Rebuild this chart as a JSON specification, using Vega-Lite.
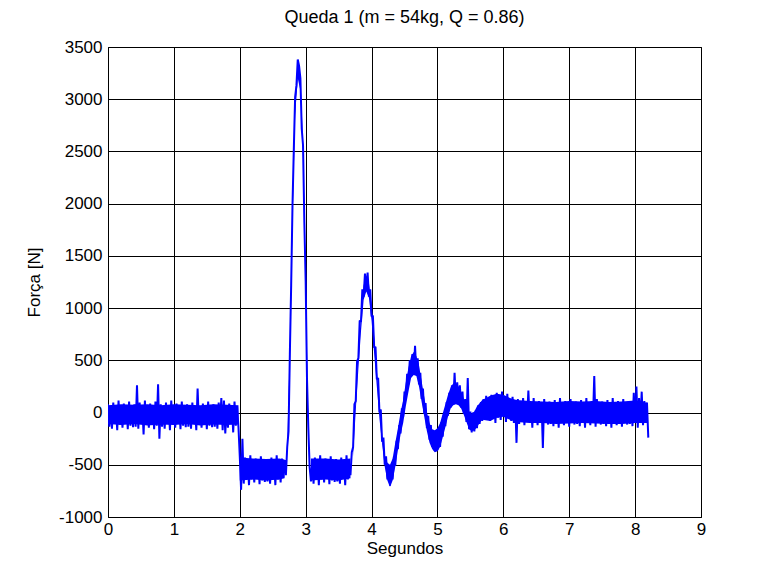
{
  "$schema": "https://vega.github.io/schema/vega-lite/v6.json",
  "width": 593,
  "height": 470,
  "autosize": {"type": "none"},
  "padding": {"left": 108, "top": 47, "right": 64, "bottom": 63},
  "background": "white",
  "title": {
    "text": "Queda 1 (m = 54kg, Q = 0.86)",
    "font": "Liberation Sans",
    "fontSize": 18,
    "fontWeight": "normal",
    "color": "black",
    "offset": 11
  },
  "datasets": {
    "faixa": [
      {"trecho": "a", "t": 0.00, "lo": -110, "hi": 70}, {"trecho": "a", "t": 0.20, "lo": -120, "hi": 80},
      {"trecho": "a", "t": 0.40, "lo": -110, "hi": 75}, {"trecho": "a", "t": 0.60, "lo": -125, "hi": 80},
      {"trecho": "a", "t": 0.80, "lo": -115, "hi": 70}, {"trecho": "a", "t": 1.00, "lo": -120, "hi": 80},
      {"trecho": "a", "t": 1.20, "lo": -110, "hi": 75}, {"trecho": "a", "t": 1.40, "lo": -125, "hi": 70},
      {"trecho": "a", "t": 1.60, "lo": -115, "hi": 80}, {"trecho": "a", "t": 1.80, "lo": -120, "hi": 75},
      {"trecho": "a", "t": 1.98, "lo": -115, "hi": 70},
      {"trecho": "b", "t": 2.00, "lo": -650, "hi": -430}, {"trecho": "b", "t": 2.20, "lo": -640, "hi": -440},
      {"trecho": "b", "t": 2.40, "lo": -650, "hi": -445}, {"trecho": "b", "t": 2.60, "lo": -640, "hi": -440},
      {"trecho": "b", "t": 2.68, "lo": -630, "hi": -450},
      {"trecho": "p1", "t": 2.72, "lo": -450, "hi": -300}, {"trecho": "p1", "t": 2.76, "lo": 400, "hi": 620},
      {"trecho": "p1", "t": 2.80, "lo": 1800, "hi": 2000}, {"trecho": "p1", "t": 2.84, "lo": 2850, "hi": 3020},
      {"trecho": "p1", "t": 2.88, "lo": 3200, "hi": 3360}, {"trecho": "p1", "t": 2.92, "lo": 3080, "hi": 3200},
      {"trecho": "p1", "t": 2.96, "lo": 2450, "hi": 2600}, {"trecho": "p1", "t": 3.00, "lo": 1150, "hi": 1300},
      {"trecho": "p1", "t": 3.04, "lo": -250, "hi": -100},
      {"trecho": "c", "t": 3.08, "lo": -650, "hi": -440}, {"trecho": "c", "t": 3.30, "lo": -640, "hi": -440},
      {"trecho": "c", "t": 3.50, "lo": -650, "hi": -450}, {"trecho": "c", "t": 3.68, "lo": -630, "hi": -440},
      {"trecho": "p2", "t": 3.72, "lo": -420, "hi": -280}, {"trecho": "p2", "t": 3.76, "lo": 20, "hi": 180},
      {"trecho": "p2", "t": 3.80, "lo": 420, "hi": 580}, {"trecho": "p2", "t": 3.84, "lo": 780, "hi": 940},
      {"trecho": "p2", "t": 3.88, "lo": 1080, "hi": 1220}, {"trecho": "p2", "t": 3.92, "lo": 1160, "hi": 1310},
      {"trecho": "p2", "t": 3.96, "lo": 1100, "hi": 1240}, {"trecho": "p2", "t": 4.00, "lo": 880, "hi": 1040},
      {"trecho": "p2", "t": 4.04, "lo": 560, "hi": 720}, {"trecho": "p2", "t": 4.08, "lo": 250, "hi": 400},
      {"trecho": "p2", "t": 4.12, "lo": -60, "hi": 100}, {"trecho": "p2", "t": 4.16, "lo": -300, "hi": -200},
      {"trecho": "d", "t": 4.16, "lo": -300, "hi": -220}, {"trecho": "d", "t": 4.20, "lo": -520, "hi": -410},
      {"trecho": "d", "t": 4.24, "lo": -650, "hi": -480}, {"trecho": "d", "t": 4.28, "lo": -710, "hi": -500},
      {"trecho": "d", "t": 4.32, "lo": -650, "hi": -440}, {"trecho": "d", "t": 4.36, "lo": -520, "hi": -290},
      {"trecho": "d", "t": 4.40, "lo": -360, "hi": -150}, {"trecho": "d", "t": 4.44, "lo": -210, "hi": 0},
      {"trecho": "d", "t": 4.48, "lo": -100, "hi": 120}, {"trecho": "d", "t": 4.52, "lo": 60, "hi": 290},
      {"trecho": "d", "t": 4.56, "lo": 200, "hi": 430}, {"trecho": "d", "t": 4.60, "lo": 330, "hi": 540},
      {"trecho": "d", "t": 4.64, "lo": 360, "hi": 580}, {"trecho": "d", "t": 4.68, "lo": 350, "hi": 540},
      {"trecho": "d", "t": 4.72, "lo": 250, "hi": 450}, {"trecho": "d", "t": 4.76, "lo": 100, "hi": 300},
      {"trecho": "d", "t": 4.80, "lo": -40, "hi": 150}, {"trecho": "d", "t": 4.84, "lo": -180, "hi": 0},
      {"trecho": "d", "t": 4.88, "lo": -290, "hi": -100}, {"trecho": "d", "t": 4.92, "lo": -350, "hi": -160},
      {"trecho": "d", "t": 4.96, "lo": -380, "hi": -170}, {"trecho": "d", "t": 5.00, "lo": -370, "hi": -150},
      {"trecho": "d", "t": 5.04, "lo": -330, "hi": -100}, {"trecho": "d", "t": 5.08, "lo": -240, "hi": -10},
      {"trecho": "d", "t": 5.12, "lo": -140, "hi": 80}, {"trecho": "d", "t": 5.16, "lo": -40, "hi": 170},
      {"trecho": "d", "t": 5.20, "lo": 40, "hi": 240}, {"trecho": "d", "t": 5.24, "lo": 70, "hi": 280},
      {"trecho": "d", "t": 5.28, "lo": 80, "hi": 280}, {"trecho": "d", "t": 5.32, "lo": 70, "hi": 250},
      {"trecho": "d", "t": 5.36, "lo": 40, "hi": 200}, {"trecho": "d", "t": 5.40, "lo": -20, "hi": 130},
      {"trecho": "d", "t": 5.44, "lo": -90, "hi": 60}, {"trecho": "d", "t": 5.48, "lo": -160, "hi": 0},
      {"trecho": "d", "t": 5.52, "lo": -180, "hi": -10}, {"trecho": "d", "t": 5.56, "lo": -170, "hi": 10},
      {"trecho": "d", "t": 5.60, "lo": -140, "hi": 60}, {"trecho": "d", "t": 5.64, "lo": -100, "hi": 90},
      {"trecho": "d", "t": 5.68, "lo": -70, "hi": 120}, {"trecho": "d", "t": 5.80, "lo": -80, "hi": 160},
      {"trecho": "d", "t": 5.90, "lo": -50, "hi": 180}, {"trecho": "d", "t": 6.00, "lo": -40, "hi": 170},
      {"trecho": "d", "t": 6.10, "lo": -70, "hi": 140}, {"trecho": "d", "t": 6.20, "lo": -90, "hi": 120},
      {"trecho": "d", "t": 6.40, "lo": -100, "hi": 110}, {"trecho": "d", "t": 6.60, "lo": -100, "hi": 105},
      {"trecho": "d", "t": 6.80, "lo": -110, "hi": 100}, {"trecho": "d", "t": 7.00, "lo": -105, "hi": 110},
      {"trecho": "d", "t": 7.20, "lo": -100, "hi": 105}, {"trecho": "d", "t": 7.40, "lo": -105, "hi": 110},
      {"trecho": "d", "t": 7.60, "lo": -110, "hi": 100}, {"trecho": "d", "t": 7.80, "lo": -110, "hi": 105},
      {"trecho": "d", "t": 8.00, "lo": -100, "hi": 115}, {"trecho": "d", "t": 8.18, "lo": -100, "hi": 95}
    ],
    "sinal": [
      {"t": 0.00, "forca": 80}, {"t": 0.02, "forca": -135}, {"t": 0.04, "forca": 45}, {"t": 0.06, "forca": -155},
      {"t": 0.08, "forca": 95}, {"t": 0.10, "forca": -105}, {"t": 0.12, "forca": 60}, {"t": 0.14, "forca": -170},
      {"t": 0.16, "forca": 115}, {"t": 0.18, "forca": -115}, {"t": 0.20, "forca": 35}, {"t": 0.22, "forca": -145},
      {"t": 0.24, "forca": 85}, {"t": 0.26, "forca": -95}, {"t": 0.28, "forca": 70}, {"t": 0.30, "forca": -160},
      {"t": 0.32, "forca": 105}, {"t": 0.34, "forca": -125}, {"t": 0.36, "forca": 50}, {"t": 0.38, "forca": -140},
      {"t": 0.40, "forca": 80}, {"t": 0.42, "forca": -135}, {"t": 0.44, "forca": 260}, {"t": 0.46, "forca": -155},
      {"t": 0.48, "forca": 95}, {"t": 0.50, "forca": -105}, {"t": 0.52, "forca": 60}, {"t": 0.54, "forca": -210},
      {"t": 0.56, "forca": 115}, {"t": 0.58, "forca": -115}, {"t": 0.60, "forca": 35}, {"t": 0.62, "forca": -145},
      {"t": 0.64, "forca": 85}, {"t": 0.66, "forca": -95}, {"t": 0.68, "forca": 70}, {"t": 0.70, "forca": -160},
      {"t": 0.72, "forca": 105}, {"t": 0.74, "forca": -125}, {"t": 0.76, "forca": 270}, {"t": 0.78, "forca": -250},
      {"t": 0.80, "forca": 80}, {"t": 0.82, "forca": -135}, {"t": 0.84, "forca": 45}, {"t": 0.86, "forca": -155},
      {"t": 0.88, "forca": 95}, {"t": 0.90, "forca": -105}, {"t": 0.92, "forca": 60}, {"t": 0.94, "forca": -170},
      {"t": 0.96, "forca": 115}, {"t": 0.98, "forca": -115}, {"t": 1.00, "forca": 35}, {"t": 1.02, "forca": -145},
      {"t": 1.04, "forca": 85}, {"t": 1.06, "forca": -95}, {"t": 1.08, "forca": 70}, {"t": 1.10, "forca": -160},
      {"t": 1.12, "forca": 105}, {"t": 1.14, "forca": -125}, {"t": 1.16, "forca": 50}, {"t": 1.18, "forca": -140},
      {"t": 1.20, "forca": 80}, {"t": 1.22, "forca": -135}, {"t": 1.24, "forca": 45}, {"t": 1.26, "forca": -155},
      {"t": 1.28, "forca": 95}, {"t": 1.30, "forca": -105}, {"t": 1.32, "forca": 60}, {"t": 1.34, "forca": -170},
      {"t": 1.36, "forca": 230}, {"t": 1.38, "forca": -115}, {"t": 1.40, "forca": 35}, {"t": 1.42, "forca": -145},
      {"t": 1.44, "forca": 85}, {"t": 1.46, "forca": -95}, {"t": 1.48, "forca": 70}, {"t": 1.50, "forca": -160},
      {"t": 1.52, "forca": 105}, {"t": 1.54, "forca": -125}, {"t": 1.56, "forca": 50}, {"t": 1.58, "forca": -140},
      {"t": 1.60, "forca": 80}, {"t": 1.62, "forca": -135}, {"t": 1.64, "forca": 45}, {"t": 1.66, "forca": -155},
      {"t": 1.68, "forca": 95}, {"t": 1.70, "forca": -105}, {"t": 1.72, "forca": 140}, {"t": 1.74, "forca": -170},
      {"t": 1.76, "forca": 115}, {"t": 1.78, "forca": -200}, {"t": 1.80, "forca": 35}, {"t": 1.82, "forca": -145},
      {"t": 1.84, "forca": 85}, {"t": 1.86, "forca": -95}, {"t": 1.88, "forca": 70}, {"t": 1.90, "forca": -190},
      {"t": 1.92, "forca": 105}, {"t": 1.94, "forca": -125}, {"t": 1.96, "forca": 50}, {"t": 1.98, "forca": -140},
      {"t": 2.00, "forca": -420}, {"t": 2.02, "forca": -740}, {"t": 2.04, "forca": -250}, {"t": 2.06, "forca": -680},
      {"t": 2.08, "forca": -430}, {"t": 2.10, "forca": -630}, {"t": 2.12, "forca": -465}, {"t": 2.14, "forca": -695},
      {"t": 2.16, "forca": -410}, {"t": 2.18, "forca": -640}, {"t": 2.20, "forca": -490}, {"t": 2.22, "forca": -670},
      {"t": 2.24, "forca": -440}, {"t": 2.26, "forca": -620}, {"t": 2.28, "forca": -455}, {"t": 2.30, "forca": -685},
      {"t": 2.32, "forca": -420}, {"t": 2.34, "forca": -650}, {"t": 2.36, "forca": -475}, {"t": 2.38, "forca": -665},
      {"t": 2.40, "forca": -445}, {"t": 2.42, "forca": -660}, {"t": 2.44, "forca": -480}, {"t": 2.46, "forca": -680},
      {"t": 2.48, "forca": -430}, {"t": 2.50, "forca": -630}, {"t": 2.52, "forca": -465}, {"t": 2.54, "forca": -695},
      {"t": 2.56, "forca": -410}, {"t": 2.58, "forca": -640}, {"t": 2.60, "forca": -490}, {"t": 2.62, "forca": -670},
      {"t": 2.64, "forca": -440}, {"t": 2.66, "forca": -620}, {"t": 2.68, "forca": -455},
      {"t": 2.70, "forca": -600}, {"t": 2.72, "forca": -330}, {"t": 2.74, "forca": -180}, {"t": 2.76, "forca": 560},
      {"t": 2.78, "forca": 1220}, {"t": 2.80, "forca": 1980}, {"t": 2.82, "forca": 2520}, {"t": 2.84, "forca": 3020},
      {"t": 2.86, "forca": 3130}, {"t": 2.88, "forca": 3380}, {"t": 2.90, "forca": 3320}, {"t": 2.92, "forca": 3200},
      {"t": 2.94, "forca": 2720}, {"t": 2.96, "forca": 2560}, {"t": 2.98, "forca": 1820}, {"t": 3.00, "forca": 1260},
      {"t": 3.02, "forca": 330}, {"t": 3.04, "forca": -140}, {"t": 3.06, "forca": -520},
      {"t": 3.08, "forca": -660}, {"t": 3.10, "forca": -480}, {"t": 3.12, "forca": -680}, {"t": 3.14, "forca": -430},
      {"t": 3.16, "forca": -630}, {"t": 3.18, "forca": -465}, {"t": 3.20, "forca": -695}, {"t": 3.22, "forca": -410},
      {"t": 3.24, "forca": -640}, {"t": 3.26, "forca": -490}, {"t": 3.28, "forca": -670}, {"t": 3.30, "forca": -440},
      {"t": 3.32, "forca": -620}, {"t": 3.34, "forca": -455}, {"t": 3.36, "forca": -685}, {"t": 3.38, "forca": -420},
      {"t": 3.40, "forca": -650}, {"t": 3.42, "forca": -475}, {"t": 3.44, "forca": -665}, {"t": 3.46, "forca": -445},
      {"t": 3.48, "forca": -660}, {"t": 3.50, "forca": -480}, {"t": 3.52, "forca": -680}, {"t": 3.54, "forca": -430},
      {"t": 3.56, "forca": -630}, {"t": 3.58, "forca": -465}, {"t": 3.60, "forca": -695}, {"t": 3.62, "forca": -410},
      {"t": 3.64, "forca": -640}, {"t": 3.66, "forca": -490}, {"t": 3.68, "forca": -600},
      {"t": 3.70, "forca": -380}, {"t": 3.72, "forca": -330}, {"t": 3.74, "forca": 80}, {"t": 3.76, "forca": 110},
      {"t": 3.78, "forca": 490}, {"t": 3.80, "forca": 520}, {"t": 3.82, "forca": 880}, {"t": 3.84, "forca": 870},
      {"t": 3.86, "forca": 1180}, {"t": 3.88, "forca": 1110}, {"t": 3.90, "forca": 1330}, {"t": 3.92, "forca": 1180},
      {"t": 3.94, "forca": 1340}, {"t": 3.96, "forca": 1110}, {"t": 3.98, "forca": 1180}, {"t": 4.00, "forca": 920},
      {"t": 4.02, "forca": 930}, {"t": 4.04, "forca": 620}, {"t": 4.06, "forca": 630}, {"t": 4.08, "forca": 320},
      {"t": 4.10, "forca": 330}, {"t": 4.12, "forca": 0}, {"t": 4.14, "forca": 30}, {"t": 4.16, "forca": -280},
      {"t": 4.18, "forca": -240}, {"t": 4.20, "forca": -500}, {"t": 4.22, "forca": -420}, {"t": 4.24, "forca": -640},
      {"t": 4.26, "forca": -520}, {"t": 4.28, "forca": -700}, {"t": 4.30, "forca": -520}, {"t": 4.32, "forca": -640},
      {"t": 4.34, "forca": -420}, {"t": 4.36, "forca": -510}, {"t": 4.38, "forca": -270}, {"t": 4.40, "forca": -350},
      {"t": 4.42, "forca": -120}, {"t": 4.44, "forca": -200}, {"t": 4.46, "forca": 40}, {"t": 4.48, "forca": -40},
      {"t": 4.50, "forca": 200}, {"t": 4.52, "forca": 120}, {"t": 4.54, "forca": 370}, {"t": 4.56, "forca": 270},
      {"t": 4.58, "forca": 500}, {"t": 4.60, "forca": 350}, {"t": 4.62, "forca": 560}, {"t": 4.64, "forca": 380},
      {"t": 4.66, "forca": 640}, {"t": 4.68, "forca": 370}, {"t": 4.70, "forca": 520}, {"t": 4.72, "forca": 270},
      {"t": 4.74, "forca": 380}, {"t": 4.76, "forca": 130}, {"t": 4.78, "forca": 230}, {"t": 4.80, "forca": -10},
      {"t": 4.82, "forca": 90}, {"t": 4.84, "forca": -150}, {"t": 4.86, "forca": -30}, {"t": 4.88, "forca": -260},
      {"t": 4.90, "forca": -120}, {"t": 4.92, "forca": -330}, {"t": 4.94, "forca": -180}, {"t": 4.96, "forca": -370},
      {"t": 4.98, "forca": -180}, {"t": 5.00, "forca": -360}, {"t": 5.02, "forca": -150}, {"t": 5.04, "forca": -330},
      {"t": 5.06, "forca": -90}, {"t": 5.08, "forca": -230}, {"t": 5.10, "forca": 0}, {"t": 5.12, "forca": -130},
      {"t": 5.14, "forca": 100}, {"t": 5.16, "forca": -30}, {"t": 5.18, "forca": 190}, {"t": 5.20, "forca": 50},
      {"t": 5.22, "forca": 260}, {"t": 5.24, "forca": 80}, {"t": 5.26, "forca": 380}, {"t": 5.28, "forca": 100},
      {"t": 5.30, "forca": 290}, {"t": 5.32, "forca": 90}, {"t": 5.34, "forca": 260}, {"t": 5.36, "forca": 50},
      {"t": 5.38, "forca": 200}, {"t": 5.40, "forca": -10}, {"t": 5.42, "forca": 130}, {"t": 5.44, "forca": -90},
      {"t": 5.46, "forca": 330}, {"t": 5.48, "forca": -160}, {"t": 5.50, "forca": 10}, {"t": 5.52, "forca": -190},
      {"t": 5.54, "forca": 0}, {"t": 5.56, "forca": -180}, {"t": 5.58, "forca": 20}, {"t": 5.60, "forca": -150},
      {"t": 5.62, "forca": 70}, {"t": 5.64, "forca": -110}, {"t": 5.66, "forca": 100}, {"t": 5.68, "forca": -80},
      {"t": 5.70, "forca": 130}, {"t": 5.72, "forca": -40}, {"t": 5.74, "forca": 160}, {"t": 5.76, "forca": -60},
      {"t": 5.78, "forca": 120}, {"t": 5.80, "forca": -80}, {"t": 5.82, "forca": 170}, {"t": 5.84, "forca": -40},
      {"t": 5.86, "forca": 140}, {"t": 5.88, "forca": -100}, {"t": 5.90, "forca": 190}, {"t": 5.92, "forca": -50},
      {"t": 5.94, "forca": 120}, {"t": 5.96, "forca": -70}, {"t": 5.98, "forca": 200}, {"t": 6.00, "forca": -30},
      {"t": 6.02, "forca": 150}, {"t": 6.04, "forca": -90}, {"t": 6.06, "forca": 180}, {"t": 6.08, "forca": -60},
      {"t": 6.10, "forca": 130}, {"t": 6.12, "forca": -80}, {"t": 6.14, "forca": 150}, {"t": 6.16, "forca": -100},
      {"t": 6.18, "forca": 110}, {"t": 6.20, "forca": -290}, {"t": 6.22, "forca": 130}, {"t": 6.24, "forca": -110},
      {"t": 6.26, "forca": 95}, {"t": 6.28, "forca": -90}, {"t": 6.30, "forca": 140}, {"t": 6.32, "forca": -120},
      {"t": 6.34, "forca": 110}, {"t": 6.36, "forca": -70}, {"t": 6.38, "forca": 210}, {"t": 6.40, "forca": -80},
      {"t": 6.42, "forca": 85}, {"t": 6.44, "forca": -145}, {"t": 6.46, "forca": 140}, {"t": 6.48, "forca": -90},
      {"t": 6.50, "forca": 60}, {"t": 6.52, "forca": -120}, {"t": 6.54, "forca": 110}, {"t": 6.56, "forca": -70},
      {"t": 6.58, "forca": 95}, {"t": 6.60, "forca": -340}, {"t": 6.62, "forca": 130}, {"t": 6.64, "forca": -100},
      {"t": 6.66, "forca": 75}, {"t": 6.68, "forca": -115}, {"t": 6.70, "forca": 105}, {"t": 6.72, "forca": -110},
      {"t": 6.74, "forca": 70}, {"t": 6.76, "forca": -130}, {"t": 6.78, "forca": 120}, {"t": 6.80, "forca": -80},
      {"t": 6.82, "forca": 85}, {"t": 6.84, "forca": -145}, {"t": 6.86, "forca": 140}, {"t": 6.88, "forca": -90},
      {"t": 6.90, "forca": 60}, {"t": 6.92, "forca": -120}, {"t": 6.94, "forca": 110}, {"t": 6.96, "forca": -70},
      {"t": 6.98, "forca": 95}, {"t": 7.00, "forca": -135}, {"t": 7.02, "forca": 130}, {"t": 7.04, "forca": -100},
      {"t": 7.06, "forca": 75}, {"t": 7.08, "forca": -115}, {"t": 7.10, "forca": 105}, {"t": 7.12, "forca": -110},
      {"t": 7.14, "forca": 70}, {"t": 7.16, "forca": -130}, {"t": 7.18, "forca": 120}, {"t": 7.20, "forca": -80},
      {"t": 7.22, "forca": 85}, {"t": 7.24, "forca": -145}, {"t": 7.26, "forca": 140}, {"t": 7.28, "forca": -90},
      {"t": 7.30, "forca": 60}, {"t": 7.32, "forca": -120}, {"t": 7.34, "forca": 110}, {"t": 7.36, "forca": -70},
      {"t": 7.38, "forca": 350}, {"t": 7.40, "forca": -135}, {"t": 7.42, "forca": 130}, {"t": 7.44, "forca": -100},
      {"t": 7.46, "forca": 75}, {"t": 7.48, "forca": -115}, {"t": 7.50, "forca": 105}, {"t": 7.52, "forca": -110},
      {"t": 7.54, "forca": 70}, {"t": 7.56, "forca": -130}, {"t": 7.58, "forca": 120}, {"t": 7.60, "forca": -80},
      {"t": 7.62, "forca": 85}, {"t": 7.64, "forca": -145}, {"t": 7.66, "forca": 140}, {"t": 7.68, "forca": -90},
      {"t": 7.70, "forca": 60}, {"t": 7.72, "forca": -120}, {"t": 7.74, "forca": 110}, {"t": 7.76, "forca": -70},
      {"t": 7.78, "forca": 95}, {"t": 7.80, "forca": -135}, {"t": 7.82, "forca": 130}, {"t": 7.84, "forca": -100},
      {"t": 7.86, "forca": 75}, {"t": 7.88, "forca": -115}, {"t": 7.90, "forca": 105}, {"t": 7.92, "forca": -110},
      {"t": 7.94, "forca": 70}, {"t": 7.96, "forca": -130}, {"t": 7.98, "forca": 190}, {"t": 8.00, "forca": -80},
      {"t": 8.02, "forca": 250}, {"t": 8.04, "forca": -145}, {"t": 8.06, "forca": 140}, {"t": 8.08, "forca": -90},
      {"t": 8.10, "forca": 200}, {"t": 8.12, "forca": -120}, {"t": 8.14, "forca": 110}, {"t": 8.16, "forca": -70},
      {"t": 8.18, "forca": 95}, {"t": 8.20, "forca": -240}
    ]
  },
  "layer": [
    {
      "data": {"name": "faixa"},
      "mark": {"type": "area", "color": "#0000ff", "opacity": 1, "clip": true},
      "encoding": {
        "x": {"field": "t", "type": "quantitative"},
        "y": {"field": "lo", "type": "quantitative"},
        "y2": {"field": "hi"},
        "detail": {"field": "trecho", "type": "nominal"}
      }
    },
    {
      "data": {"name": "sinal"},
      "mark": {"type": "line", "color": "#0000ff", "strokeWidth": 2, "strokeJoin": "miter", "strokeMiterLimit": 2, "clip": true},
      "encoding": {
        "x": {"field": "t", "type": "quantitative"},
        "y": {"field": "forca", "type": "quantitative"}
      }
    }
  ],
  "encoding": {
    "x": {
      "field": "t",
      "type": "quantitative",
      "scale": {"domain": [0, 9], "nice": false, "zero": false},
      "axis": {"values": [0, 1, 2, 3, 4, 5, 6, 7, 8, 9], "title": "Segundos", "labelPadding": 4, "titlePadding": 3}
    },
    "y": {
      "field": "forca",
      "type": "quantitative",
      "scale": {"domain": [-1000, 3500], "nice": false, "zero": false},
      "axis": {
        "values": [-1000, -500, 0, 500, 1000, 1500, 2000, 2500, 3000, 3500],
        "title": "Força [N]",
        "labelPadding": 6,
        "titlePadding": 15
      }
    }
  },
  "config": {
    "view": {"stroke": "black", "strokeWidth": 1},
    "axis": {
      "grid": true,
      "gridColor": "black",
      "gridOpacity": 1,
      "gridWidth": 1,
      "domain": false,
      "ticks": false,
      "zindex": 1,
      "labelExpr": "'' + datum.value",
      "labelFont": "Liberation Sans",
      "labelFontSize": 17,
      "labelColor": "black",
      "labelFlush": false,
      "labelOverlap": false,
      "titleFont": "Liberation Sans",
      "titleFontSize": 17,
      "titleFontWeight": "normal",
      "titleColor": "black"
    }
  }
}
